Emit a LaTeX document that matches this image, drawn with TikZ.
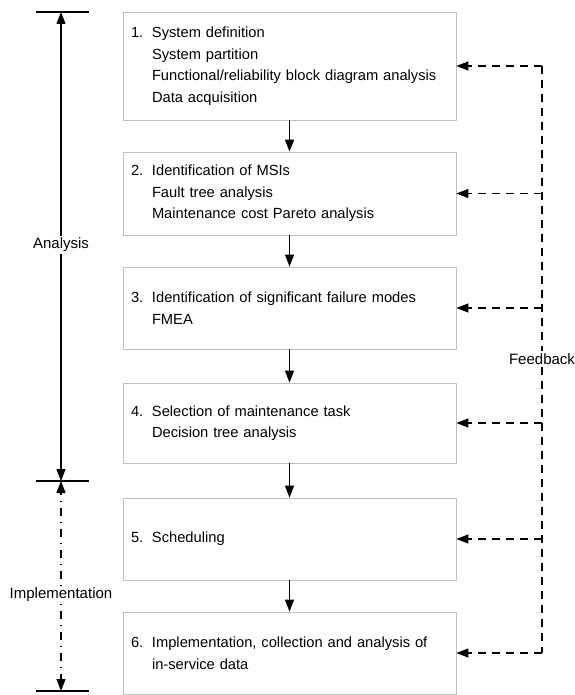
\documentclass[tikz,border=0pt]{standalone}
\usepackage{fontspec}
\setmainfont{Liberation Sans}
\usetikzlibrary{arrows.meta,calc}
\newcommand{\itm}[2]{\makebox[21pt][l]{#1}#2}
\newcommand{\cnt}[1]{\hspace*{21pt}#1}
\begin{document}
\begin{tikzpicture}[x=1pt,y=-1pt,
  stepbox/.style={draw=black!25,line width=0.8pt,fill=white,minimum width=333pt,
    text width=317pt,inner xsep=8pt,align=left,font=\fontsize{14.7}{21.5}\selectfont},
  tip/.style={-{Triangle[length=12pt,width=9pt]}},
  flow/.style={line width=1.2pt,tip},
  fbline/.style={line width=1.2pt,dash pattern=on 8pt off 6pt},
  fbarrow/.style={fbline,tip},
  side/.style={line width=1.3pt},
  dd/.style={side,dash pattern=on 1pt off 6pt on 8pt off 6pt,tip},
  lbl/.style={fill=white,inner sep=2pt,font=\fontsize{15}{17}\selectfont}]
\useasboundingbox (0,0) rectangle (574,695);
\node[stepbox,minimum height=108pt] (b1) at (289.5,66)
  {\itm{1.}{System definition}\\\cnt{System partition}\\\cnt{Functional/reliability block diagram analysis}\\\cnt{Data acquisition}};
\node[stepbox,minimum height=83pt] (b2) at (289.5,193.5)
  {\itm{2.}{Identification of MSIs}\\\cnt{Fault tree analysis}\\\cnt{Maintenance cost Pareto analysis}};
\node[stepbox,minimum height=82pt] (b3) at (289.5,308)
  {\itm{3.}{Identification of significant failure modes}\\\cnt{FMEA}};
\node[stepbox,minimum height=80pt] (b4) at (289.5,423)
  {\itm{4.}{Selection of maintenance task}\\\cnt{Decision tree analysis}};
\node[stepbox,minimum height=82pt] (b5) at (289.5,539)
  {\itm{5.}{Scheduling}};
\node[stepbox,minimum height=82pt] (b6) at (289.5,653)
  {\itm{6.}{Implementation, collection and analysis of}\\\cnt{in-service data}};
\foreach \a/\b in {b1/b2,b2/b3,b3/b4,b4/b5,b5/b6}
  \draw[flow] (\a.south) -- (\b.north);
% feedback
\coordinate (fx) at (542,0);
\node[lbl] (fb) at (542,359) {Feedback};
\draw[fbline] (b1.east -| fx) -- (fb.north);
\draw[fbline] (fb.south) -- (b6.east -| fx);
\foreach \b in {b1,b2,b3,b4,b5,b6}
  \draw[fbarrow] (\b.east -| fx) -- (\b.east);
% analysis / implementation
\coordinate (at) at (61,12);
\coordinate (am) at (61,481);
\coordinate (ab) at (61,691);
\draw[side] (36,12) -- (89,12);
\draw[side] (36,481) -- (89,481);
\draw[side] (36,691) -- (89,691);
\node[lbl] (an) at (61,245) {Analysis};
\draw[side,tip] (an.north) -- (at);
\draw[side,tip] (an.south) -- (am);
\node[lbl] (im) at (61,595) {Implementation};
\draw[dd] (im.north) -- (am);
\draw[dd] (im.south) -- (ab);
\end{tikzpicture}
\end{document}
